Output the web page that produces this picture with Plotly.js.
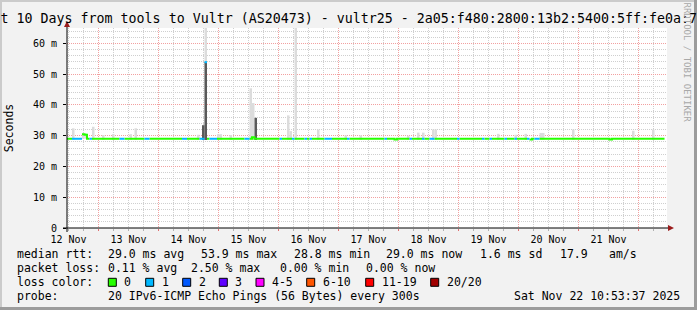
<!DOCTYPE html>
<html><head><meta charset="utf-8">
<script src="https://cdn.plot.ly/plotly-3.0.1.min.js"></script>
<style>html,body{margin:0;padding:0;background:#f2f2f2;}#chart{width:697px;height:310px;}</style>
</head><body><div id="chart"></div>
<script>
// ---------------- data ----------------
const startTime = Date.UTC(2025, 10, 12, 11, 24, 0);   // left edge of graph
const endTime   = Date.UTC(2025, 10, 22, 11, 24, 0);   // right edge of graph
const binMs = 3600000;                                  // one value per hour

// median RTT per hour (ms)
const medianRtt = [
  29.0,29.0,29.0,29.0,29.0,29.0,30.5,30.3,29.0,29.0,29.0,29.0,29.0,29.0,29.0,29.0,29.0,29.0,29.0,29.0,29.0,29.0,29.0,29.0,
  29.0,29.0,29.0,29.0,29.0,29.0,29.0,29.0,29.0,29.0,29.0,29.0,29.0,29.0,29.0,29.0,29.0,29.0,29.0,29.0,29.0,29.0,29.0,29.0,
  29.0,29.0,29.0,29.0,29.0,29.0,29.0,53.9,29.0,29.0,29.0,29.0,29.0,29.0,29.0,29.0,29.0,29.0,29.0,29.0,29.0,29.0,29.0,29.0,
  29.0,29.0,29.5,29.0,29.0,29.0,29.0,29.0,29.0,29.0,29.0,29.0,29.0,29.0,29.0,29.0,29.0,29.0,29.0,29.0,29.0,29.0,29.0,29.0,
  29.0,29.0,29.0,29.0,29.0,29.0,29.0,29.0,29.0,29.0,29.0,29.0,29.0,29.0,29.0,29.0,29.0,29.0,29.0,29.0,29.0,29.0,29.0,29.0,
  29.0,29.0,29.0,29.0,29.0,29.0,29.0,29.0,29.0,29.0,29.0,28.8,29.0,29.0,29.0,29.0,29.0,29.0,29.0,29.0,29.0,29.0,29.0,29.0,
  29.0,29.0,29.0,29.0,29.0,29.0,29.0,29.0,29.0,29.0,29.0,29.0,29.0,29.0,29.0,29.0,29.0,29.0,29.0,29.0,29.0,29.0,29.0,29.0,
  29.0,29.0,29.0,29.0,29.0,29.0,29.0,29.0,29.0,29.0,29.0,29.0,29.0,29.0,29.0,29.0,29.0,28.8,29.0,29.0,29.0,29.0,29.0,29.0,
  29.0,29.0,29.0,29.0,29.0,29.0,29.0,29.0,29.0,29.0,29.0,29.0,29.0,29.0,29.0,29.0,29.0,29.0,29.0,29.0,29.0,29.0,29.0,29.0,
  29.0,28.8,29.0,29.0,29.0,29.0,29.0,29.0,29.0,29.0,29.0,29.0,29.0,29.0,29.0,29.0,29.0,29.0,29.0,29.0,29.0,29.0,29.0,null
];
// lost pings (of 20) per hour
const lossCount = [
  0,0,1,1,1,1,0,0,0,1,0,0,0,0,0,0,0,0,0,0,0,1,1,0,
  0,0,0,0,0,0,0,1,1,0,0,0,0,0,0,0,0,0,0,0,0,0,1,1,
  0,0,0,0,0,1,1,1,0,1,1,1,0,0,0,0,0,0,0,0,0,0,0,1,
  1,0,0,0,0,0,0,0,0,0,0,0,0,1,0,0,0,0,1,0,0,0,0,1,
  0,1,0,0,0,0,0,1,1,1,0,0,0,0,0,0,1,0,0,0,0,0,0,0,
  0,0,0,0,0,0,0,1,0,0,0,0,0,0,0,0,0,1,0,0,0,0,1,0,
  0,1,1,0,0,0,0,0,0,0,0,0,1,0,0,0,0,0,0,0,0,0,1,0,
  0,1,0,0,0,0,0,1,0,0,0,1,0,0,0,0,1,0,0,1,1,0,0,0,
  0,0,0,0,0,0,0,0,0,0,0,0,0,0,0,0,0,0,0,0,0,0,0,0,
  0,0,0,0,0,0,0,0,0,0,0,0,0,0,0,0,0,0,0,0,0,0,0,0
];
// smoke (spread of the 20 pings): hour index, lowest and highest ping (ms)
const smokeBin = [2,6,7,10,14,18,25,27,52,54,55,60,61,65,73,74,88,89,91,100,111,117,136,140,142,146,147,172,179,183,189,190,202,226,234];
const smokeLow = [28.6,29.0,29.0,28.6,28.6,28.6,28.6,28.6,28.6,28.6,29.0,28.6,28.6,28.6,28.6,28.6,28.6,28.6,28.6,28.6,28.6,28.6,28.6,28.6,28.6,28.6,28.6,28.6,28.6,28.6,28.6,28.6,28.6,28.6,28.6];
const smokeTop = [32.4,30.7,30.7,32.9,30.2,30.5,30.5,32.4,30.3,33.4,70.0,30.5,30.5,30.2,45.4,40.6,36.6,31.5,70.0,32.0,30.1,30.1,30.0,31.0,31.0,32.0,32.0,30.6,30.3,30.6,30.9,30.9,32.0,31.6,32.0];
// dense part of the smoke
const denseBin = [54,55,75];
const denseLow = [28.6,28.6,28.6];
const denseTop = [33.4,53.9,35.8];

// axis / legend text
const yTickVals = [0,10,20,30,40,50,60];
const yTickText = ['0','10 m','20 m','30 m','40 m','50 m','60 m'];
const titleText = 'Last 10 Days from tools to Vultr (AS20473) - vultr25 - 2a05:f480:2800:13b2:5400:5ff:fe0a:7';
const rttLabel = 'median rtt:';
const rttStats = ['29.0 ms avg','53.9 ms max','28.8 ms min','29.0 ms now','1.6 ms sd','17.9','am/s'];
const lossLabel = 'packet loss:';
const lossStats = ['0.11 % avg','2.50 % max','0.00 % min','0.00 % now'];
const colorLabel = 'loss color:';
const lossClasses = ['0','1','2','3','4-5','6-10','11-19','20/20'];
const lossClassMax = [0,1,2,3,5,10,19,20];
const probeLabel = 'probe:';
const probeText = '20 IPv6-ICMP Echo Pings (56 Bytes) every 300s';
const stampText = 'Sat Nov 22 10:53:37 2025';
const watermark = 'RRDTOOL / TOBI OETIKER';

// ---------------- styles ----------------
const lossColors = ['#26ff00','#00b8ff','#0059ff','#5e00ff','#ff00ff','#ff5500','#ff0000','#a10000'];
const MONO = 'DejaVu Sans Mono';
const L = 67, T = 28, W = 600, H = 200;
const px = x => (x - L) / W;
const py = y => (T + H - y) / H;
const JUMP = 2; // no vertical connector drawn for jumps larger than this (ms)

function lossClass(n){ for (let k=0;k<lossClassMax.length;k++) if (n <= lossClassMax[k]) return k; return 7; }
const tOf = i => startTime + i * binMs;

const traces = [];
// light smoke
traces.push({
  type:'bar', x: smokeBin.map(b => tOf(b) + binMs/2), base: smokeLow,
  y: smokeTop.map((v,k) => v - smokeLow[k]), width: smokeBin.map(() => binMs),
  marker:{color:'#dcdcdc', line:{width:0}}, hoverinfo:'skip', showlegend:false
});
// dense smoke
traces.push({
  type:'bar', x: denseBin.map(b => tOf(b) + binMs/2), base: denseLow,
  y: denseTop.map((v,k) => v - denseLow[k]), width: denseBin.map(() => binMs),
  marker:{color:'#5a5a5a', line:{width:0}}, hoverinfo:'skip', showlegend:false
});
// median line coloured by loss
function same(i, j, c){
  return j >= 0 && j < medianRtt.length && medianRtt[j] != null && lossClass(lossCount[j]) === c &&
         Math.abs(medianRtt[j] - medianRtt[i]) <= JUMP;
}
for (let c = 0; c < lossClasses.length; c++) {
  const xs = [], ys = [];
  for (let i = 0; i < medianRtt.length; i++) {
    if (medianRtt[i] == null || lossClass(lossCount[i]) !== c) continue;
    if (!same(i, i-1, c) && xs.length) { xs.push(null); ys.push(null); }
    xs.push(tOf(i)); ys.push(medianRtt[i]);
    if (!same(i, i+1, c)) { xs.push(tOf(i+1)); ys.push(medianRtt[i]); }
  }
  if (xs.length) traces.push({
    type:'scatter', mode:'lines', x:xs, y:ys, connectgaps:false,
    line:{color:lossColors[c], width:2, shape:'hv'}, hoverinfo:'skip', showlegend:false
  });
}

const txtFont = {family:MONO, size:11.5, color:'#000'};
const annotations = [];
function addText(text, x, y, extra){
  annotations.push(Object.assign({xref:'paper', yref:'paper', x:px(x), y:py(y), xanchor:'left', yanchor:'middle',
    text:text, showarrow:false, font:txtFont, borderpad:0}, extra||{}));
}
const row = [254.3, 268.3, 282.3, 296.3];
addText(rttLabel, 16, row[0]);
[107.3,200,293.3,385,479.3,559,607.7].forEach((x,k) => addText(rttStats[k], x, row[0]));
addText(lossLabel, 16, row[1]);
[107.3,190,279.3,365].forEach((x,k) => addText(lossStats[k], x, row[1]));
addText(colorLabel, 16, row[2]);
const sqX = [108.3,145.7,182.7,219.3,256,306.7,365.7,430.7];
const shapes = [];
sqX.forEach((x,k) => {
  addText(lossClasses[k], x + 15, row[2]);
  shapes.push({type:'rect', xref:'paper', yref:'paper', x0:px(x), x1:px(x+8), y0:py(row[2]+4), y1:py(row[2]-4),
    fillcolor:lossColors[k], line:{color:'#000', width:1}});
});
addText(probeLabel, 16, row[3]);
addText(probeText, 107.3, row[3]);
addText(stampText, 513.3, row[3]);
annotations.push({xref:'paper', yref:'paper', x:px(686.5), y:py(62), xanchor:'center', yanchor:'middle',
  text:watermark, textangle:90, showarrow:false, font:{family:MONO, size:9, color:'#a8a8a8'}});

// axis lines, arrows and frame
shapes.push({type:'line', xref:'paper', yref:'paper', x0:px(67), x1:px(67), y0:py(232), y1:py(24), line:{color:'#000', width:1}});
shapes.push({type:'line', xref:'paper', yref:'paper', x0:px(63), x1:px(671), y0:0, y1:0, line:{color:'#000', width:1}});
shapes.push({type:'path', xref:'paper', yref:'paper', path:`M ${px(67)} ${py(21)} L ${px(64)} ${py(27)} L ${px(70)} ${py(27)} Z`, fillcolor:'#9b1c1c', line:{width:0}});
shapes.push({type:'path', xref:'paper', yref:'paper', path:`M ${px(674)} ${py(228)} L ${px(668)} ${py(225)} L ${px(668)} ${py(231)} Z`, fillcolor:'#9b1c1c', line:{width:0}});
shapes.push({type:'rect', xref:'paper', yref:'paper', x0:px(0), x1:px(697), y0:py(307), y1:py(310), fillcolor:'#9c9c9c', line:{width:0}});
shapes.push({type:'rect', xref:'paper', yref:'paper', x0:px(694), x1:px(697), y0:py(0), y1:py(310), fillcolor:'#9c9c9c', line:{width:0}});
shapes.push({type:'rect', xref:'paper', yref:'paper', x0:px(0), x1:px(694), y0:py(0), y1:py(2), fillcolor:'#cbcbcb', line:{width:0}});
shapes.push({type:'rect', xref:'paper', yref:'paper', x0:px(0), x1:px(2), y0:py(0), y1:py(307), fillcolor:'#cbcbcb', line:{width:0}});

const layout = {
  width:697, height:310, margin:{l:L, r:697-L-W, t:T, b:310-T-H, pad:0},
  paper_bgcolor:'#f2f2f2', plot_bgcolor:'#ffffff', barmode:'overlay', showlegend:false,
  title:{text:titleText, x:1, xanchor:'right', xref:'container', y:1-18/310, yanchor:'middle', yref:'container',
    font:{family:MONO, size:13.3, color:'#000'}},
  xaxis:{type:'date', range:[startTime, endTime], tick0:'2025-11-13', dtick:86400000, ticklabelmode:'period',
    tickformat:'%d %b', tickfont:{family:MONO, size:10, color:'#000'},
    showgrid:true, gridcolor:'#f2a0a0', griddash:'1px,1px', gridwidth:1,
    ticks:'outside', ticklen:2, tickcolor:'#e07070', zeroline:false, showline:false,
    minor:{tick0:'2025-11-13', dtick:21600000, showgrid:true, gridcolor:'#cfcfcf', griddash:'1px,1px', ticks:'outside', ticklen:2, tickcolor:'#b0b0b0'},
    fixedrange:true},
  yaxis:{range:[0,65], tickmode:'array', tickvals:yTickVals, ticktext:yTickText, tickfont:{family:MONO, size:10, color:'#000'},
    showgrid:true, gridcolor:'#f2a0a0', griddash:'1px,1px', gridwidth:1,
    ticks:'outside', ticklen:3, tickcolor:'#000', zeroline:false, showline:false, ticklabelstandoff:4,
    minor:{dtick:2, showgrid:true, gridcolor:'#cfcfcf', griddash:'1px,1px'},
    title:{text:'Seconds', font:{family:MONO, size:11.5, color:'#000'}, standoff:16},
    fixedrange:true},
  annotations:annotations, shapes:shapes
};
Plotly.newPlot('chart', traces, layout, {staticPlot:true, displayModeBar:false});
</script></body></html>
